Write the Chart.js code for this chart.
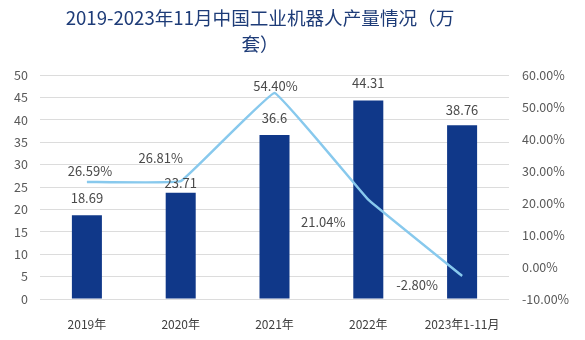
<!DOCTYPE html>
<html>
<head>
<meta charset="utf-8">
<script src="https://cdn.jsdelivr.net/npm/chart.js@4"></script>
<style>
  html, body { margin: 0; padding: 0; background: #fff; }
  #wrap { position: relative; width: 585px; height: 340px; }
  #title {
    position: absolute; left: 0; top: 4px; width: 520px;
    text-align: center; font: 18.6px/26px "Noto Sans CJK SC", sans-serif;
    color: #1e3c78;
  }
  canvas { position: absolute; left: 0; top: 0; }
</style>
</head>
<body>
<div id="wrap">
  <canvas id="cRobot" width="585" height="340"></canvas>
  <div id="title">2019-2023年11月中国工业机器人产量情况（万<br>套）</div>
</div>
<script>
// Industrial robot output (10k sets) and year-on-year growth
const years = ['2019年', '2020年', '2021年', '2022年', '2023年1-11月'];
const output = [18.69, 23.71, 36.6, 44.31, 38.76];
const growth = [26.59, 26.81, 54.40, 21.04, -2.80];

// label placement relative to the mark (px)
const barLabelLift = [17, 10, 17, 17, 15];
const growthLabelShift = [[3, -11], [-20, -23], [1, -7], [-45, 22], [-45, 9]];

const FONT = '"Noto Sans CJK SC", sans-serif';
const TEXT = '#4a4a4a';

const valueLabels = {
  id: 'valueLabels',
  afterDatasetsDraw(chart) {
    const ctx = chart.ctx;
    ctx.save();
    ctx.font = '13px ' + FONT;
    ctx.fillStyle = TEXT;
    ctx.textAlign = 'center';
    ctx.textBaseline = 'middle';
    chart.getDatasetMeta(0).data.forEach((bar, i) => {
      ctx.fillText(String(output[i]), bar.x, bar.y - barLabelLift[i]);
    });
    chart.getDatasetMeta(1).data.forEach((pt, i) => {
      const [dx, dy] = growthLabelShift[i];
      ctx.fillText(growth[i].toFixed(2) + '%', pt.x + dx, pt.y + dy);
    });
    ctx.restore();
  }
};

new Chart(document.getElementById('cRobot'), {
  data: {
    labels: years,
    datasets: [{
      type: 'bar',
      label: '产量（万套）',
      data: output,
      yAxisID: 'y',
      backgroundColor: '#103889',
      barPercentage: 0.32,
      categoryPercentage: 1,
      order: 1
    }, {
      type: 'line',
      label: '同比增长',
      data: growth,
      yAxisID: 'y1',
      borderColor: '#88c9ed',
      borderWidth: 2.5,
      pointRadius: 0,
      tension: 0.06,
      order: 0
    }]
  },
  options: {
    responsive: false,
    animation: false,
    layout: { padding: { top: 75, left: 0, right: 0, bottom: 0 } },
    plugins: {
      legend: { display: false },
      tooltip: { enabled: false }
    },
    scales: {
      x: {
        grid: { display: false },
        border: { display: false },
        ticks: { color: '#404040', font: { family: FONT, size: 12 }, padding: 10, maxRotation: 0 },
        afterFit: s => { s.height = 41; }
      },
      y: {
        position: 'left',
        min: 0, max: 50,
        grid: { color: '#dcdcdc', drawTicks: false },
        border: { display: false },
        ticks: { stepSize: 5, color: '#595959', font: { family: FONT, size: 12.5 }, padding: 12 },
        afterFit: s => { s.width = 40; }
      },
      y1: {
        position: 'right',
        min: -10, max: 60,
        grid: { display: false, drawTicks: false },
        border: { display: false },
        ticks: {
          stepSize: 10, color: '#595959', font: { family: FONT, size: 12.5 }, padding: 13,
          callback: v => v.toFixed(2) + '%'
        },
        afterFit: s => { s.width = 76; }
      }
    }
  },
  plugins: [valueLabels]
});
</script>
</body>
</html>
